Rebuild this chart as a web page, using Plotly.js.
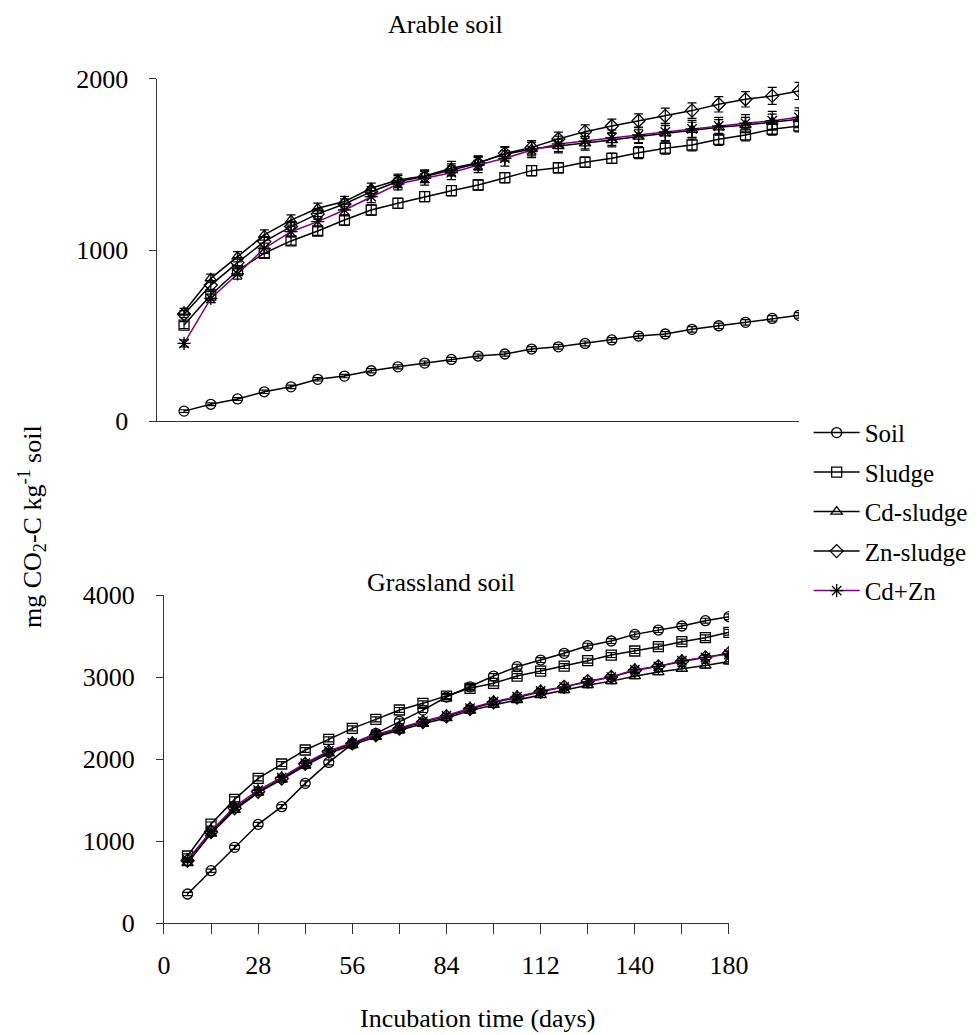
<!DOCTYPE html>
<html>
<head>
<meta charset="utf-8">
<script src="https://cdn.plot.ly/plotly-3.0.1.min.js"></script>
<style>html,body{margin:0;padding:0;background:#fff;}#chart{width:979px;height:1035px;}</style>
</head>
<body>
<div id="chart"></div>
<script>
// Incubation days (weekly measurements)
var days = [7,14,21,28,35,42,49,56,63,70,77,84,91,98,105,112,119,126,133,140,147,154,161,168];
var seriesNames = ["Soil","Sludge","Cd-sludge","Zn-sludge","Cd+Zn"];

// Arable soil (mg CO2-C kg-1 soil)
var arableSoil   = [58,98,129,171,200,244,263,294,317,339,360,380,392,421,434,454,474,497,509,536,557,577,600,618];
var arableSludge = [561,737,880,981,1053,1111,1175,1234,1273,1312,1347,1380,1423,1464,1481,1513,1536,1569,1595,1614,1647,1673,1706,1725];
var arableCd     = [639,834,961,1088,1175,1244,1283,1361,1409,1433,1478,1511,1560,1590,1608,1624,1643,1663,1682,1702,1717,1731,1750,1765];
var arableZn     = [625,795,926,1049,1137,1211,1269,1341,1400,1429,1468,1507,1565,1600,1649,1692,1725,1756,1784,1815,1852,1881,1901,1930];
var arableCdZn   = [454,717,860,1010,1107,1166,1234,1312,1386,1419,1452,1497,1536,1585,1620,1637,1657,1673,1690,1708,1725,1741,1756,1776];

var arableSoilErr   = [8,8,8,10,10,10,10,12,12,12,12,12,12,14,14,14,14,14,14,16,16,16,16,16];
var arableSludgeErr = [20,20,25,25,25,25,30,30,30,30,30,30,30,30,30,30,30,35,35,35,35,35,35,35];
var arableCdErr     = [20,25,30,30,30,30,30,30,35,35,40,40,40,40,40,40,40,40,45,45,45,45,45,50];
var arableZnErr     = [20,25,30,30,30,30,30,30,35,35,35,40,40,40,40,40,40,40,45,45,45,45,50,50];
var arableCdZnErr   = [20,25,30,30,30,30,35,35,35,40,40,45,45,45,45,45,45,45,50,50,50,50,55,55];

// Grassland soil (mg CO2-C kg-1 soil)
var grassSoil   = [354,638,923,1203,1419,1703,1959,2183,2313,2460,2597,2756,2880,3012,3126,3207,3289,3382,3439,3520,3573,3622,3687,3736];
var grassSludge = [817,1207,1508,1764,1939,2110,2240,2374,2484,2598,2679,2768,2862,2923,3012,3073,3134,3199,3268,3317,3370,3431,3480,3545];
var grassCd     = [730,1090,1380,1590,1750,1920,2070,2170,2270,2350,2430,2500,2590,2660,2720,2780,2840,2900,2950,3010,3060,3100,3140,3190];
var grassZn     = [760,1110,1400,1600,1760,1940,2090,2190,2290,2370,2450,2520,2610,2690,2750,2820,2880,2950,3000,3080,3130,3190,3240,3290];
var grassCdZn   = [770,1120,1420,1620,1775,1950,2100,2200,2300,2380,2460,2530,2620,2700,2760,2830,2880,2940,3000,3090,3130,3200,3240,3280];

var grassSoilErr   = [20,20,25,25,25,30,30,30,30,30,30,30,30,30,30,30,30,30,30,30,30,30,30,35];
var grassSludgeErr = [25,25,30,30,30,30,30,30,30,30,30,30,30,30,30,30,30,30,30,30,30,30,35,35];
var grassCdErr     = [25,25,30,30,30,30,30,30,30,30,30,30,30,30,30,30,30,30,30,30,30,30,30,30];
var grassZnErr     = [25,25,30,30,30,30,30,30,30,30,30,30,30,30,30,30,30,30,30,30,30,30,30,30];
var grassCdZnErr   = [25,25,30,30,30,30,30,30,30,30,30,30,30,30,30,30,30,30,30,30,30,30,30,30];

// Tick labels
var yTicksTop = [0,1000,2000];
var yTicksBottom = [0,1000,2000,3000,4000];
var xTickVals = [0,14,28,42,56,70,84,98,112,126,140,154,168];
var xTickText = ["0"," ","28"," ","56"," ","84"," ","112"," ","140"," ","180"];

var symbols = ["circle-open","square-open","triangle-up-open","diamond-open","asterisk-open"];
var lineColors = ["#000000","#000000","#000000","#000000","#800080"];
var FONT = "Liberation Serif, Times New Roman, serif";

var arableData = [arableSoil, arableSludge, arableCd, arableZn, arableCdZn];
var arableErr = [arableSoilErr, arableSludgeErr, arableCdErr, arableZnErr, arableCdZnErr];
var grassData = [grassSoil, grassSludge, grassCd, grassZn, grassCdZn];
var grassErr = [grassSoilErr, grassSludgeErr, grassCdErr, grassZnErr, grassCdZnErr];

var traces = [];
function addTraces(data, errs, xa, ya, legend) {
  for (var i = 0; i < seriesNames.length; i++) {
    traces.push({
      type: "scatter", mode: "lines+markers",
      x: days, y: data[i], xaxis: xa, yaxis: ya,
      name: seriesNames[i], legendgroup: seriesNames[i], showlegend: legend,
      line: {color: lineColors[i], width: 1.5},
      marker: {symbol: symbols[i], size: (i === 4 ? 11 : 10), color: "#000", line: {color: "#000", width: 1.3}},
      error_y: {type: "data", array: errs[i], visible: true, color: "#000", thickness: 1.2, width: 4.5}
    });
  }
}
addTraces(arableData, arableErr, "x", "y", true);
addTraces(grassData, grassErr, "x2", "y2", false);

var axisBase = {showgrid: false, zeroline: false, showline: true, linecolor: "#333", linewidth: 1,
  tickfont: {family: FONT, size: 26, color: "#000"}, tickcolor: "#333"};

var layout = {
  width: 979, height: 1035,
  margin: {l: 0, r: 0, t: 0, b: 0},
  paper_bgcolor: "#fff", plot_bgcolor: "rgba(0,0,0,0)",
  font: {family: FONT, size: 26, color: "#000"},
  showlegend: true,
  legend: {x: 0.826, y: 0.604, xanchor: "left", yanchor: "top", bgcolor: "rgba(0,0,0,0)",
    font: {family: FONT, size: 25, color: "#000"}, tracegroupgap: 4, itemwidth: 46},
  xaxis: Object.assign({}, axisBase, {domain: [0.1607, 0.8161], range: [0, 168], ticks: "", showticklabels: false, anchor: "y"}),
  yaxis: Object.assign({}, axisBase, {domain: [0.5932, 0.9237], range: [0, 2000], tickvals: yTicksTop, ticks: "outside", ticklen: 7, ticklabelstandoff: 16, anchor: "x"}),
  xaxis2: Object.assign({}, axisBase, {domain: [0.1675, 0.7446], range: [0, 168], tickvals: xTickVals, ticktext: xTickText, ticks: "outside", ticklen: 10, ticklabelstandoff: 9, anchor: "y2"}),
  yaxis2: Object.assign({}, axisBase, {domain: [0.1082, 0.4251], range: [0, 4000], tickvals: yTicksBottom, ticks: "outside", ticklen: 7, ticklabelstandoff: 16, anchor: "x2"}),
  annotations: [
    {text: "Arable soil", xref: "paper", yref: "paper", x: 445/979, y: 1 - 25/1035, showarrow: false, xanchor: "center", yanchor: "middle", font: {family: FONT, size: 26}},
    {text: "Grassland soil", xref: "paper", yref: "paper", x: 441/979, y: 1 - 582/1035, showarrow: false, xanchor: "center", yanchor: "middle", font: {family: FONT, size: 26}},
    {text: "Incubation time (days)", xref: "paper", yref: "paper", x: 477/979, y: 1 - 1018/1035, showarrow: false, xanchor: "center", yanchor: "middle", font: {family: FONT, size: 26}},
    {text: "mg CO<sub>2</sub>-C kg<sup>-1</sup> soil", xref: "paper", yref: "paper", x: 32/979, y: 1 - 527/1035, showarrow: false, textangle: -90, xanchor: "center", yanchor: "middle", font: {family: FONT, size: 26}}
  ]
};

Plotly.newPlot("chart", traces, layout, {staticPlot: true, displayModeBar: false});
</script>
</body>
</html>
